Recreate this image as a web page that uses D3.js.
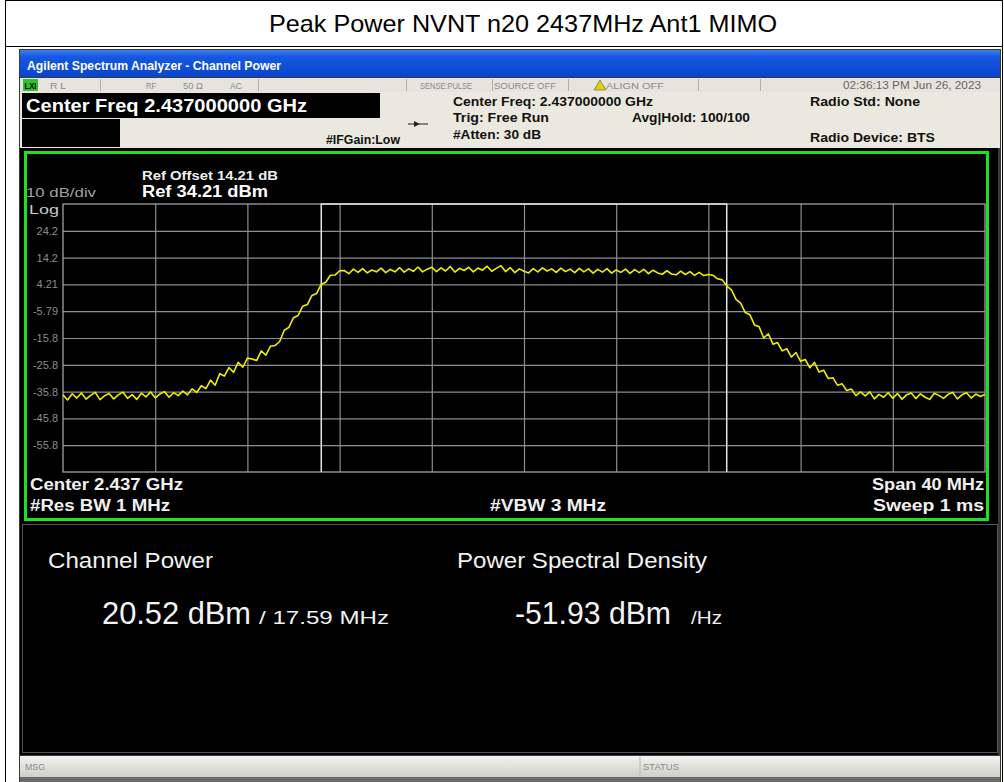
<!DOCTYPE html>
<html><head><meta charset="utf-8">
<script src="https://cdn.jsdelivr.net/npm/d3@7"></script>
<style>
body{margin:0;background:#fff;}
svg{display:block;font-family:"Liberation Sans",Arial,sans-serif;}
</style>
</head><body>
<svg id="c" width="1004" height="782"></svg>
<script>
// ---------------- data ----------------
const chartTitle = "Peak Power NVNT n20 2437MHz Ant1 MIMO";
const centerFreqMHz = 2437;
const spanMHz = 40;
const refLevel = 34.21;
const dbPerDiv = 10;
const channelBwMHz = 17.59;
const yTickLabels = ["24.2","14.2","4.21","-5.79","-15.8","-25.8","-35.8","-45.8","-55.8"];
const traceDbm = [
 -37.0,-38.9,-36.6,-38.2,-36.3,-38.6,-37.2,-36.1,-38.8,-37.4,
 -36.5,-38.5,-37.0,-36.0,-38.3,-36.9,-38.7,-36.4,-37.8,-35.9,
 -38.1,-36.7,-35.8,-37.9,-36.2,
 -37.3,-35.6,-37.0,-34.8,-36.1,-33.6,-34.7,-31.5,-33.4,-29.1,
 -30.0,-26.8,-28.6,-24.9,-26.7,-23.3,-23.6,-24.2,-20.6,-22.2,
 -18.9,-18.6,-17.1,
 -12.9,-11.8,-8.2,-7.4,-3.9,-3.3,0.1,0.8,4.2,5.0,7.6,7.7,9.3,
 9.4,8.2,9.9,8.7,10.1,8.5,9.6,8.9,10.3,8.6,
 9.8,8.9,10.5,8.8,10.0,9.1,10.7,8.9,9.9,10.6,
 9.0,10.4,9.2,10.9,8.8,10.2,9.4,10.6,8.9,10.3,
 9.5,11.0,9.1,10.2,11.2,9.0,10.5,8.6,10.0,9.1,
 8.5,10.1,8.9,10.4,9.2,10.0,8.7,10.3,9.0,9.9,
 8.6,10.2,8.9,10.0,8.4,9.8,8.8,10.1,8.4,9.6,
 8.7,9.9,8.3,9.7,8.6,9.8,8.2,9.5,8.5,8.0,
 9.3,8.1,7.8,9.2,7.9,9.0,7.6,8.7,7.5,7.9,
 7.6,6.3,5.9,3.6,2.2,-1.4,-2.8,-6.3,-7.1,-10.9,
 -11.6,-15.8,-14.2,-18.1,-17.5,-20.6,-19.8,-22.9,-21.2,-24.5,
 -23.8,-26.9,-24.9,-28.5,-27.8,-30.9,-30.6,-33.4,-32.9,-35.4,
 -34.8,-37.3,-35.9,
 -37.4,-35.9,-38.5,-36.8,-37.9,-36.2,-38.3,-36.5,-38.6,-37.0,
 -36.3,-38.4,-36.6,-37.9,-38.7,-36.4,-37.2,-38.3,-36.8,-36.1,
 -38.5,-37.0,-36.2,-38.2,-36.7,-37.6,-36.9
];
const channelPower = "20.52 dBm";
const channelPowerBw = "/ 17.59 MHz";
const psdValue = "-51.93 dBm";
const psdUnit = "/Hz";

// ---------------- drawing ----------------
const svg = d3.select("#c");
const defs = svg.append("defs");
const g1 = defs.append("linearGradient").attr("id","blue").attr("x1",0).attr("x2",0).attr("y1",0).attr("y2",1);
g1.append("stop").attr("offset","0").attr("stop-color","#3f7ff0");
g1.append("stop").attr("offset","0.25").attr("stop-color","#1559e0");
g1.append("stop").attr("offset","1").attr("stop-color","#0a44cc");
const g2 = defs.append("linearGradient").attr("id","gray").attr("x1",0).attr("x2",0).attr("y1",0).attr("y2",1);
g2.append("stop").attr("offset","0").attr("stop-color","#f2f2ee");
g2.append("stop").attr("offset","1").attr("stop-color","#cfcfca");

function txt(t, xx, yy, size, opts) {
  opts = opts || {};
  const e = svg.append("text").attr("x",xx).attr("y",yy).attr("font-size",size)
    .attr("fill",opts.fill || "#000").attr("text-anchor",opts.anchor || "start").text(t);
  if (opts.bold) e.attr("font-weight","bold");
  if (opts.w) e.attr("textLength",opts.w).attr("lengthAdjust","spacingAndGlyphs");
  return e;
}

// table frame + title
svg.append("rect").attr("x",5.5).attr("y",0.5).attr("width",997).attr("height",800).attr("fill","#fff").attr("stroke","#000");
svg.append("line").attr("x1",5).attr("x2",1003).attr("y1",46.5).attr("y2",46.5).attr("stroke","#000");
txt(chartTitle, 523, 32, 24, {anchor:"middle", w:508});

// screenshot outer
svg.append("rect").attr("x",19).attr("y",49).attr("width",982).attr("height",740).attr("fill","#3a3a3a");
svg.append("rect").attr("x",20).attr("y",50).attr("width",980).attr("height",27).attr("fill","url(#blue)");
txt("Agilent Spectrum Analyzer - Channel Power", 27, 70, 12.5, {fill:"#fff", bold:true, w:254});

// status strip
svg.append("rect").attr("x",20).attr("y",78).attr("width",980).attr("height",14).attr("fill","#e6e4dc");
svg.append("rect").attr("x",23).attr("y",79).attr("width",15).attr("height",12).attr("fill","#2fc02f");
txt("LXI", 24.5, 89, 9, {bold:true, w:12});
const stripTxt = [["R L",50,16],["RF",146,10],["50 Ω",183,20],["AC",230,12],["SENSE:PULSE",420,52],["SOURCE OFF",494,62],["ALIGN OFF",606,58]];
stripTxt.forEach(([t,x,w])=>txt(t, x, 89, 9.5, {fill:"#8a8a8a", w:w}));
[100,258,406,492,568,698,760].forEach(x=>svg.append("line").attr("x1",x+0.5).attr("x2",x+0.5).attr("y1",79).attr("y2",91).attr("stroke","#b0b0a8"));
svg.append("path").attr("d","M594,90 L600,80 L606,90 Z").attr("fill","#e8d000").attr("stroke","#555").attr("stroke-width",0.6);
txt("02:36:13 PM Jun 26, 2023", 981, 89, 10, {anchor:"end", fill:"#666", w:138});

// info panel
svg.append("rect").attr("x",20).attr("y",92).attr("width",980).attr("height",56).attr("fill","#ebe9df");
svg.append("rect").attr("x",22).attr("y",93).attr("width",358).attr("height",25).attr("fill","#000");
svg.append("rect").attr("x",22).attr("y",119).attr("width",98).attr("height",28).attr("fill","#000");
txt("Center Freq 2.437000000 GHz", 26, 112, 19, {fill:"#fff", bold:true, w:281});
const info = [
  ["#IFGain:Low",326,144,74],
  ["Center Freq: 2.437000000 GHz",453,106,200],
  ["Trig: Free Run",453,122,96],
  ["#Atten: 30 dB",453,139,88],
  ["Avg|Hold: 100/100",632,122,118],
  ["Radio Std: None",810,106,110],
  ["Radio Device: BTS",810,142,125]
];
info.forEach(([t,x,y,w])=>txt(t, x, y, 12.5, {bold:true, fill:"#111", w:w}));
svg.append("line").attr("x1",408).attr("x2",428).attr("y1",124).attr("y2",124).attr("stroke","#222");
svg.append("path").attr("d","M414,121 L420,124 L414,127 Z").attr("fill","#222");

// screen
svg.append("rect").attr("x",20).attr("y",148).attr("width",978).attr("height",607).attr("fill","#000");
svg.append("rect").attr("x",25.5).attr("y",152.5).attr("width",962).attr("height",367)
  .attr("fill","none").attr("stroke","#1fe01f").attr("stroke-width",3);

// scales
const x = d3.scaleLinear().domain([centerFreqMHz - spanMHz/2, centerFreqMHz + spanMHz/2]).range([63, 985]);
const y = d3.scaleLinear().domain([refLevel - 10*dbPerDiv, refLevel]).range([472, 204]);
const W = 922, H = 268;

const yGrid = d3.range(1,10).map(k => refLevel - k*dbPerDiv);
const xGrid = d3.range(1,10).map(k => centerFreqMHz - spanMHz/2 + k*spanMHz/10);

const yAxis = svg.append("g").attr("transform","translate(63,0)")
  .call(d3.axisLeft(y).tickValues(yGrid).tickSize(-W).tickPadding(5).tickFormat((d,i)=>yTickLabels[i]));
yAxis.select(".domain").remove();
yAxis.selectAll("line").attr("stroke","#8e8e8e").attr("stroke-width",1.2);
yAxis.selectAll("text").attr("fill","#8c8c8c").attr("font-size",11).attr("font-family","Liberation Sans, Arial, sans-serif");

const xAxis = svg.append("g").attr("transform","translate(0,472)")
  .call(d3.axisBottom(x).tickValues(xGrid).tickSize(-H).tickFormat(""));
xAxis.select(".domain").remove();
xAxis.selectAll("line").attr("stroke","#8e8e8e").attr("stroke-width",1.2);

svg.append("rect").attr("x",63).attr("y",204).attr("width",W).attr("height",H)
  .attr("fill","none").attr("stroke","#a0a0a0").attr("stroke-width",1.3);

// channel boundaries
const cl = x(centerFreqMHz - channelBwMHz/2), cr = x(centerFreqMHz + channelBwMHz/2);
svg.append("path").attr("d",`M${cl},${y.range()[0]} L${cl},${y(refLevel)} L${cr},${y(refLevel)} L${cr},${y.range()[0]}`)
  .attr("fill","none").attr("stroke","#e6e6e6").attr("stroke-width",1.5);

// trace
const startF = centerFreqMHz - spanMHz/2;
const step = spanMHz/(traceDbm.length-1);
const line = d3.line().x((d,i)=>x(startF + i*step)).y(d=>y(d));
svg.append("path").datum(traceDbm).attr("d",line).attr("fill","none")
  .attr("stroke","#eeee00").attr("stroke-width",1.6).attr("stroke-linejoin","round");

// screen annotations
txt("Ref Offset 14.21 dB", 142, 180, 13, {fill:"#eee", bold:true, w:136});
txt("Ref 34.21 dBm", 142, 197, 16, {fill:"#fff", bold:true, w:126});
txt("10 dB/div", 26, 197, 13, {fill:"#a0a0a0", w:70});
txt("Log", 29, 214, 13.5, {fill:"#c8c8c8", w:30});

const bot = [
  ["Center  2.437 GHz",30,490,"start",153],
  ["#Res BW  1 MHz",30,511,"start",140],
  ["#VBW  3 MHz",490,511,"start",116],
  ["Span 40 MHz",984,490,"end",112],
  ["Sweep  1 ms",984,511,"end",111]
];
bot.forEach(([t,xx,yy,a,w])=>txt(t, xx, yy, 16, {anchor:a, fill:"#f0f0f0", bold:true, w:w}));

// lower result panel
svg.append("rect").attr("x",22.5).attr("y",524.5).attr("width",975).attr("height",228)
  .attr("fill","#000").attr("stroke","#555");
txt("Channel Power", 48, 568, 22, {fill:"#f2f2f2", w:165});
txt("Power Spectral Density", 457, 568, 22, {fill:"#f2f2f2", w:250});
txt(channelPower, 102, 624, 31, {fill:"#f4f4f4", w:149});
txt(channelPowerBw, 259, 624, 18, {fill:"#f0f0f0", w:130});
txt(psdValue, 515, 624, 31, {fill:"#f4f4f4", w:156});
txt(psdUnit, 691, 624, 18, {fill:"#f0f0f0", w:31});

// bottom status bar
svg.append("rect").attr("x",20).attr("y",756).attr("width",980).attr("height",21).attr("fill","url(#gray)");
svg.append("line").attr("x1",640).attr("x2",640).attr("y1",757).attr("y2",776).attr("stroke","#b8b8b0");
txt("MSG", 25, 770, 9.5, {fill:"#8a8a8a", w:20});
txt("STATUS", 643, 770, 9.5, {fill:"#8a8a8a", w:36});
svg.append("rect").attr("x",20).attr("y",777).attr("width",980).attr("height",5).attr("fill","#6a6a6a");
</script>
</body></html>
